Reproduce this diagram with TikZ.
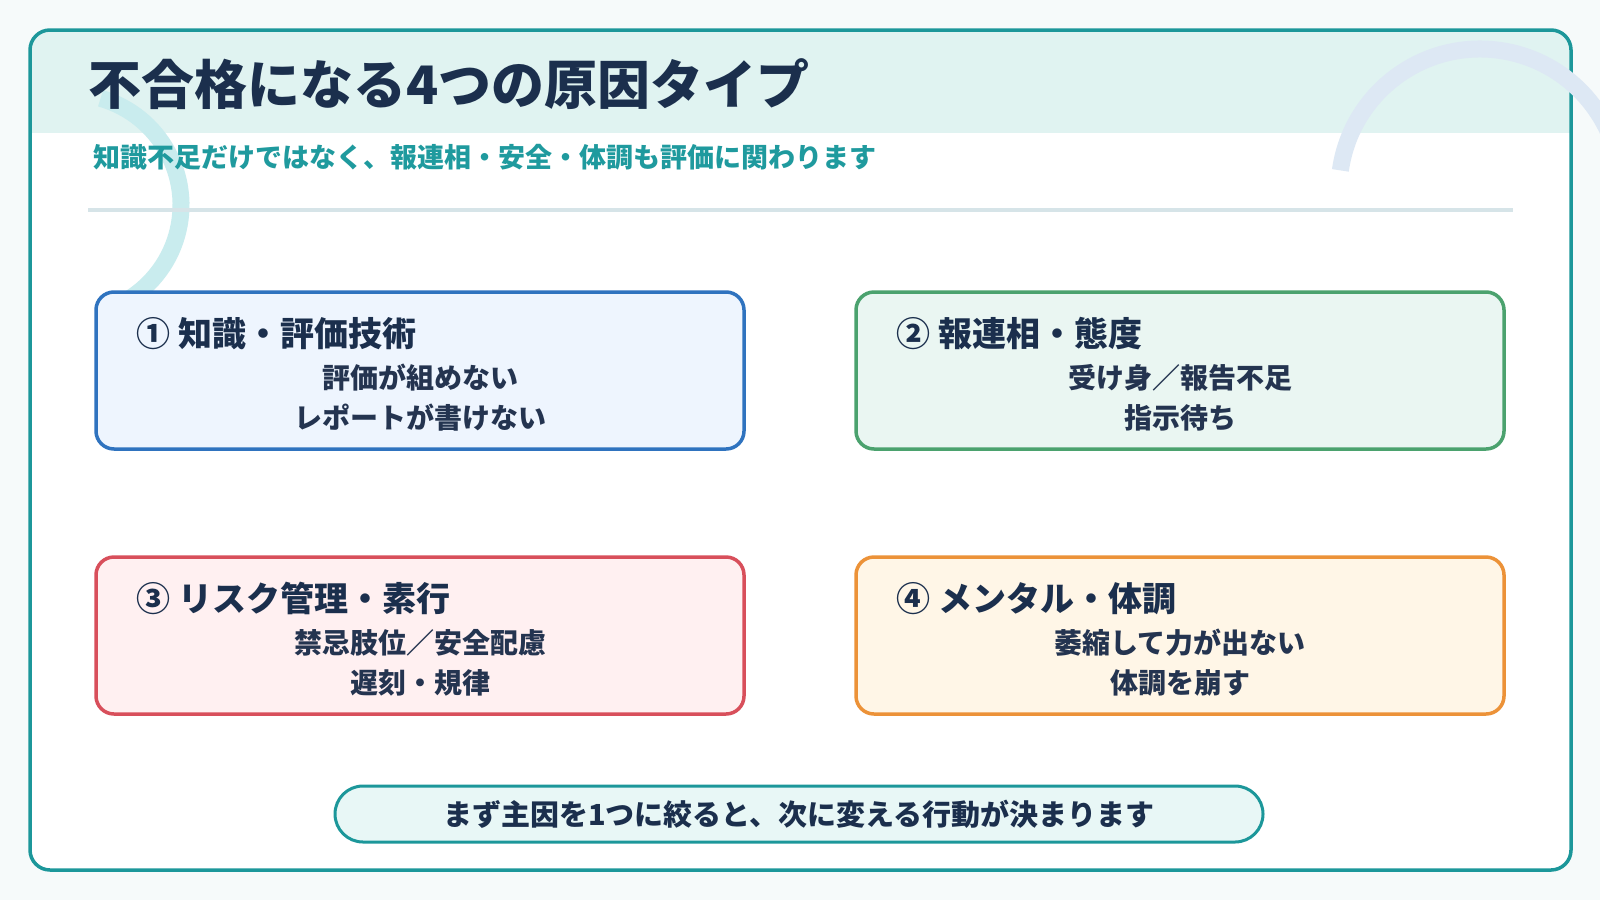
\documentclass[tikz,border=0pt]{standalone}
\usepackage{fontspec}
\setmainfont{Noto Sans CJK JP}
\newfontfamily\heavyjp{Noto Sans CJK JP Black}

\definecolor{pagebg}{HTML}{F6FAFA}
\definecolor{frameteal}{HTML}{1C979A}
\definecolor{bandfill}{HTML}{E0F3F1}
\definecolor{titlenavy}{HTML}{1B2F4D}
\definecolor{subteal}{HTML}{1F9A9E}
\definecolor{rulegray}{HTML}{D6E4E8}
\definecolor{arccyan}{HTML}{C9ECEE}
\definecolor{arcblue}{HTML}{DDE8F4}
\definecolor{bodyink}{HTML}{243450}
\definecolor{knowline}{HTML}{2F73BF}
\definecolor{knowfill}{HTML}{EEF5FE}
\definecolor{commline}{HTML}{4BA26E}
\definecolor{commfill}{HTML}{EAF6F2}
\definecolor{riskline}{HTML}{D84F5B}
\definecolor{riskfill}{HTML}{FFF0F1}
\definecolor{mentline}{HTML}{EC9238}
\definecolor{mentfill}{HTML}{FFF6E7}
\definecolor{pillfill}{HTML}{E8F7F6}

\begin{document}
\begin{tikzpicture}[x=1pt, y=1pt,
  %% Category boxes (2 x 2 grid)
  catbox/.style={draw, line width=3.5pt, rounded corners=18pt,
                 minimum width=648pt, minimum height=157pt, inner sep=0pt},
  %% Box heading, left aligned
  cathead/.style={anchor=west, inner sep=0pt, text=titlenavy,
                  font=\fontsize{34}{40}\selectfont\heavyjp},
  %% Two centred lines under the heading
  catsub/.style={align=center, inner sep=0pt, text=bodyink,
                 font=\fontsize{28}{40}\selectfont\heavyjp},
  %% Bottom pill
  pillbox/.style={draw=frameteal, fill=pillfill, line width=3pt,
                  rounded corners=28pt, minimum width=928pt,
                  minimum height=56pt, inner sep=0pt, text=titlenavy,
                  font=\fontsize{29}{34}\selectfont\heavyjp},
  %% Decorative arcs
  decoarc/.style={line width=17pt}
]

%% ── Page and frame ──────────────────────────────────────────────────────
\clip (0,0) rectangle (1600,-900);
\fill[pagebg] (0,0) rectangle (1600,-900);
\fill[white, rounded corners=20pt] (30,-30) rectangle (1571,-870);
\begin{scope}
  \clip[rounded corners=20pt] (30,-30) rectangle (1571,-870);
  \fill[bandfill] (30,-30) rectangle (1571,-133);
\end{scope}
\draw[frameteal, line width=3.5pt, rounded corners=20pt]
  (30,-30) rectangle (1571,-870);

%% ── Decorative arcs (behind the text) ──────────────────────────────────
\draw[decoarc, arccyan] (70,-205) ++(74:111)
  arc[start angle=74, end angle=-62, radius=111];
\draw[decoarc, arcblue] (1480,-190) ++(172:141)
  arc[start angle=172, end angle=10, radius=141];

%% ── Header ──────────────────────────────────────────────────────────────
\node[anchor=west, inner sep=0pt, text=titlenavy,
      font=\fontsize{53}{58}\selectfont\heavyjp] (title) at (88,-84)
  {不合格になる4つの原因タイプ};
\node[anchor=west, inner sep=0pt, text=subteal,
      font=\fontsize{27}{30}\selectfont\heavyjp] (subtitle) at (93,-157.5)
  {知識不足だけではなく、報連相・安全・体調も評価に関わります};
\draw[rulegray, line width=4.5pt] (88,-210) -- (1513,-210);

%% ── Four cause boxes ────────────────────────────────────────────────────
\node[catbox, draw=knowline, fill=knowfill] (know) at (420,-370.5) {};
\node[catbox, draw=commline, fill=commfill] (comm) at (1180,-370.5) {};
\node[catbox, draw=riskline, fill=riskfill] (risk) at (420,-635.5) {};
\node[catbox, draw=mentline, fill=mentfill] (ment) at (1180,-635.5) {};

\node[cathead] (knowhead) at ([xshift=42pt, yshift=-43pt]know.north west)
  {① 知識・評価技術};
\node[catsub] (knowsub) at ([yshift=-27.5pt]know.center)
  {評価が組めない\\レポートが書けない};

\node[cathead] (commhead) at ([xshift=42pt, yshift=-43pt]comm.north west)
  {② 報連相・態度};
\node[catsub] (commsub) at ([yshift=-27.5pt]comm.center)
  {受け身／報告不足\\指示待ち};

\node[cathead] (riskhead) at ([xshift=42pt, yshift=-43pt]risk.north west)
  {③ リスク管理・素行};
\node[catsub] (risksub) at ([yshift=-27.5pt]risk.center)
  {禁忌肢位／安全配慮\\遅刻・規律};

\node[cathead] (menthead) at ([xshift=42pt, yshift=-43pt]ment.north west)
  {④ メンタル・体調};
\node[catsub] (mentsub) at ([yshift=-27.5pt]ment.center)
  {萎縮して力が出ない\\体調を崩す};

%% ── Bottom message ──────────────────────────────────────────────────────
\node[pillbox] (takeaway) at (799,-814)
  {まず主因を1つに絞ると、次に変える行動が決まります};

\end{tikzpicture}
\end{document}
